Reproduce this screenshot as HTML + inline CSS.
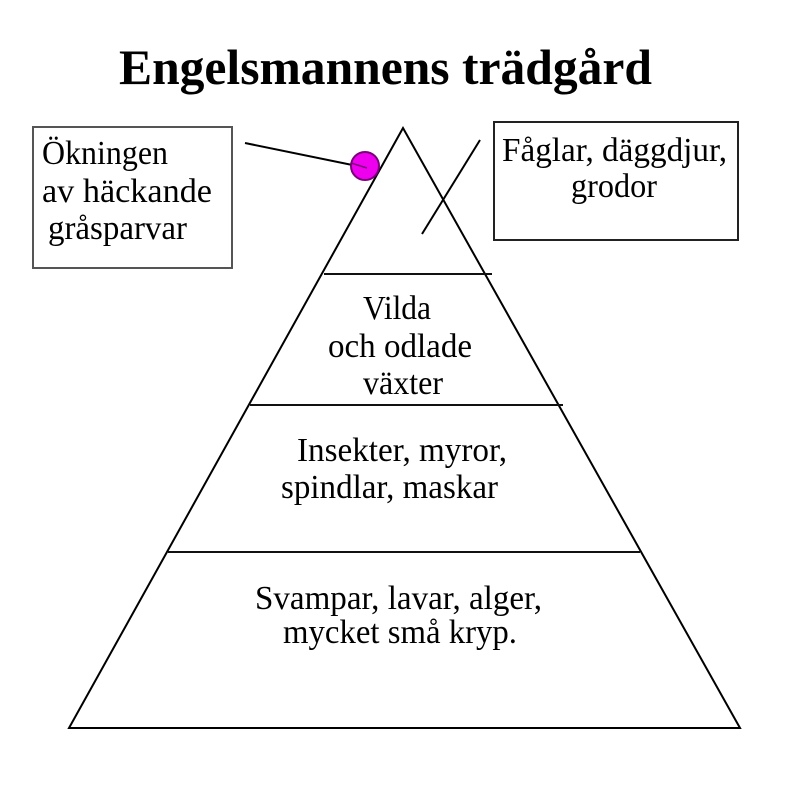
<!DOCTYPE html>
<html>
<head>
<meta charset="utf-8">
<style>
  html, body { margin: 0; padding: 0; background: #fff; }
  svg { display: block; }
  text { font-family: "Liberation Serif", "Times New Roman", serif; fill: #000; }
</style>
</head>
<body>
<svg width="793" height="790" viewBox="0 0 793 790" xmlns="http://www.w3.org/2000/svg">
  <rect x="0" y="0" width="793" height="790" fill="#fff"/>

  <!-- Title -->
  <text x="119" y="84" font-size="50" font-weight="bold" textLength="533" lengthAdjust="spacingAndGlyphs">Engelsmannens trädgård</text>

  <!-- Pyramid -->
  <polygon points="403,128 69,728 740,728" fill="none" stroke="#000" stroke-width="2" stroke-linejoin="miter"/>
  <line x1="324" y1="274" x2="492" y2="274" stroke="#111" stroke-width="2"/>
  <line x1="250" y1="405" x2="563" y2="405" stroke="#111" stroke-width="2"/>
  <line x1="168" y1="552" x2="640" y2="552" stroke="#111" stroke-width="2"/>

  <!-- Left box -->
  <rect x="33" y="127" width="199" height="141" fill="none" stroke="#555" stroke-width="2"/>
  <text x="42" y="164" font-size="34" textLength="126" lengthAdjust="spacingAndGlyphs">Ökningen</text>
  <text x="42" y="202" font-size="34" textLength="170" lengthAdjust="spacingAndGlyphs">av  häckande</text>
  <text x="48" y="239" font-size="34" textLength="139" lengthAdjust="spacingAndGlyphs">gråsparvar</text>

  <!-- Left connector + circle -->
  <line x1="245" y1="143" x2="367" y2="168" stroke="#000" stroke-width="2"/>
  <circle cx="365" cy="166" r="14" fill="#ee00ee" stroke="#7a007a" stroke-width="2"/>
  <line x1="351" y1="163" x2="367" y2="168" stroke="#7a007a" stroke-width="1.5"/>

  <!-- Right box -->
  <rect x="494" y="122" width="244" height="118" fill="none" stroke="#222" stroke-width="2"/>
  <text x="502" y="161" font-size="34" textLength="225" lengthAdjust="spacingAndGlyphs">Fåglar, däggdjur,</text>
  <text x="571" y="197" font-size="34" textLength="86" lengthAdjust="spacingAndGlyphs">grodor</text>

  <!-- Right connector -->
  <line x1="480" y1="140" x2="422" y2="234" stroke="#000" stroke-width="2"/>

  <!-- Tier 2 -->
  <text x="363" y="319" font-size="34" textLength="68" lengthAdjust="spacingAndGlyphs">Vilda</text>
  <text x="328" y="357" font-size="34" textLength="144" lengthAdjust="spacingAndGlyphs">och odlade</text>
  <text x="363" y="394" font-size="34" textLength="80" lengthAdjust="spacingAndGlyphs">växter</text>

  <!-- Tier 3 -->
  <text x="297" y="461" font-size="34" textLength="210" lengthAdjust="spacingAndGlyphs">Insekter, myror,</text>
  <text x="281" y="498" font-size="34" textLength="217" lengthAdjust="spacingAndGlyphs">spindlar, maskar</text>

  <!-- Tier 4 -->
  <text x="255" y="609" font-size="34" textLength="287" lengthAdjust="spacingAndGlyphs">Svampar, lavar, alger,</text>
  <text x="283" y="643" font-size="34" textLength="234" lengthAdjust="spacingAndGlyphs">mycket små kryp.</text>
</svg>
</body>
</html>
